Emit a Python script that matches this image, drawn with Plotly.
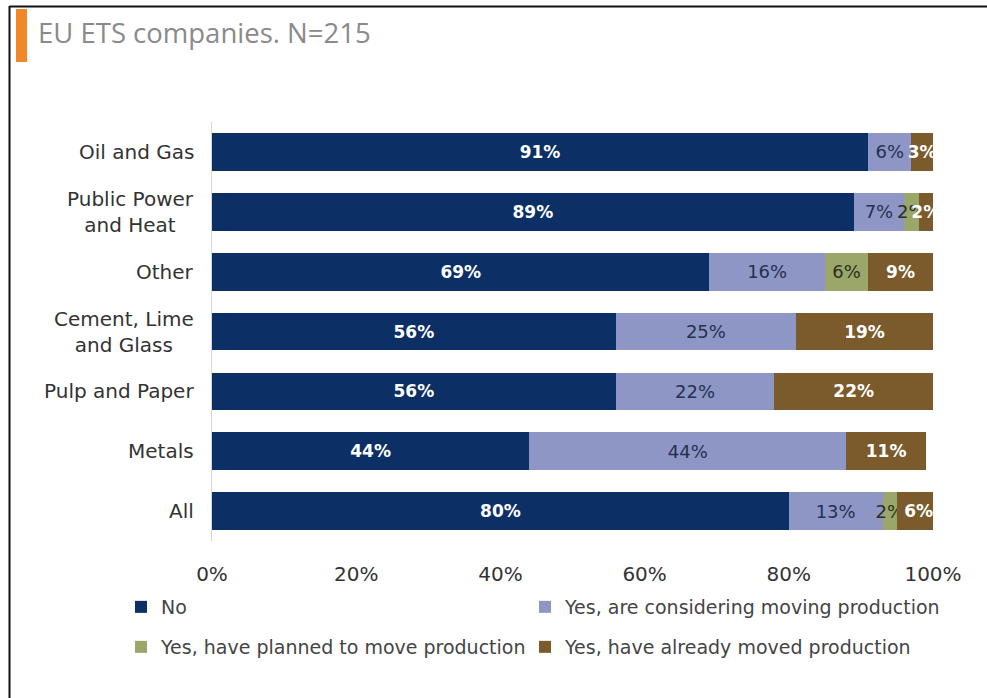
import plotly.graph_objects as go

# Survey answers per sector (percent of companies)
categories = ["Oil and Gas", "Public Power<br>and Heat", "Other", "Cement, Lime<br>and Glass",
              "Pulp and Paper", "Metals", "All"]
no = [91, 89, 69, 56, 56, 44, 80]
considering = [6, 7, 16, 25, 22, 44, 13]
planned = [0, 2, 6, 0, 0, 0, 2]
moved = [3, 2, 9, 19, 22, 11, 6]

series_names = ["No", "Yes, are considering moving production",
                "Yes, have planned to move production", "Yes, have already moved production"]
tick_values = [0, 20, 40, 60, 80, 100]
tick_labels = ["0%", "20%", "40%", "60%", "80%", "100%"]
title_text = "EU ETS companies. N=215"

W, H = 987, 698
ML, MR, MT, MB = 212, 54, 122, 157
PW, PH = W - ML - MR, H - MT - MB

FONT = "DejaVu Sans"


def px_x(x):
    return (x - ML) / PW


def px_y(y):
    return (H - MB - y) / PH


def labels(vals):
    return [f"{v}%" if v else "" for v in vals]


# one legend box per entry, laid out as a 2x2 grid under the axis
series = [
    (series_names[0], no, "#0c2f66", dict(color="white", size=17, family=FONT, weight="bold"), "legend", (121, 607)),
    (series_names[1], considering, "#8e96c6", dict(color="#26304f", size=18, family=FONT), "legend2", (525, 607)),
    (series_names[2], planned, "#9aa66a", dict(color="#2a3020", size=18, family=FONT), "legend3", (121, 647)),
    (series_names[3], moved, "#7b5a2c", dict(color="white", size=17, family=FONT, weight="bold"), "legend4", (525, 647)),
]

fig = go.Figure()
for name, vals, color, tfont, leg, _ in series:
    fig.add_trace(go.Bar(
        y=categories, x=vals, name=name, orientation="h",
        marker=dict(color=color, line=dict(width=0)),
        text=labels(vals), textposition="inside", insidetextanchor="middle",
        textangle=0, constraintext="none", textfont=tfont,
        legend=leg, hoverinfo="skip",
    ))

# category labels, centred line by line
for c in categories:
    fig.add_annotation(xref="paper", yref="y", x=0, y=c, xanchor="right", xshift=-16,
                       text=c, align="center", showarrow=False,
                       font=dict(family=FONT, size=20, color="#333333"))

legend_common = dict(orientation="h", xanchor="left", yanchor="middle",
                     font=dict(family=FONT, size=19, color="#444444"),
                     bgcolor="rgba(0,0,0,0)")
legends = {leg: dict(x=px_x(pos[0]), y=px_y(pos[1]), **legend_common)
           for _, _, _, _, leg, pos in series}

fig.update_layout(
    width=W, height=H,
    margin=dict(l=ML, r=MR, t=MT, b=MB),
    paper_bgcolor="white", plot_bgcolor="white",
    barmode="stack", bargap=0.37,
    showlegend=True,
    **legends,
    title=dict(text=title_text, xref="container", yref="container", x=38 / W, xanchor="left",
               y=1 - 33 / H, yanchor="middle",
               font=dict(family="Open Sans", size=27.5, color="#8a8a8a")),
    xaxis=dict(range=[0, 100], tickvals=tick_values, ticktext=tick_labels,
               showgrid=False, zeroline=False, showline=False,
               ticks="outside", ticklen=15, tickcolor="rgba(0,0,0,0)",
               tickfont=dict(family=FONT, size=20, color="#333333"), fixedrange=True),
    yaxis=dict(type="category", categoryorder="array", categoryarray=categories,
               autorange="reversed", showticklabels=False, showgrid=False, zeroline=False,
               showline=True, linecolor="#d6d6d6", linewidth=1, ticks="", fixedrange=True),
    shapes=[
        # orange accent beside the heading
        dict(type="rect", xref="paper", yref="paper", x0=px_x(16), x1=px_x(27),
             y0=px_y(62), y1=px_y(9), fillcolor="#f0882a", line=dict(width=0), layer="above"),
        # frame lines
        dict(type="line", xref="paper", yref="paper", x0=px_x(9.5), x1=px_x(9.5),
             y0=px_y(6), y1=px_y(H + 2), line=dict(color="#111111", width=2)),
        dict(type="line", xref="paper", yref="paper", x0=px_x(9.5), x1=px_x(W + 2),
             y0=px_y(6.5), y1=px_y(6.5), line=dict(color="#111111", width=2)),
    ],
)

fig.write_html("out.html")
